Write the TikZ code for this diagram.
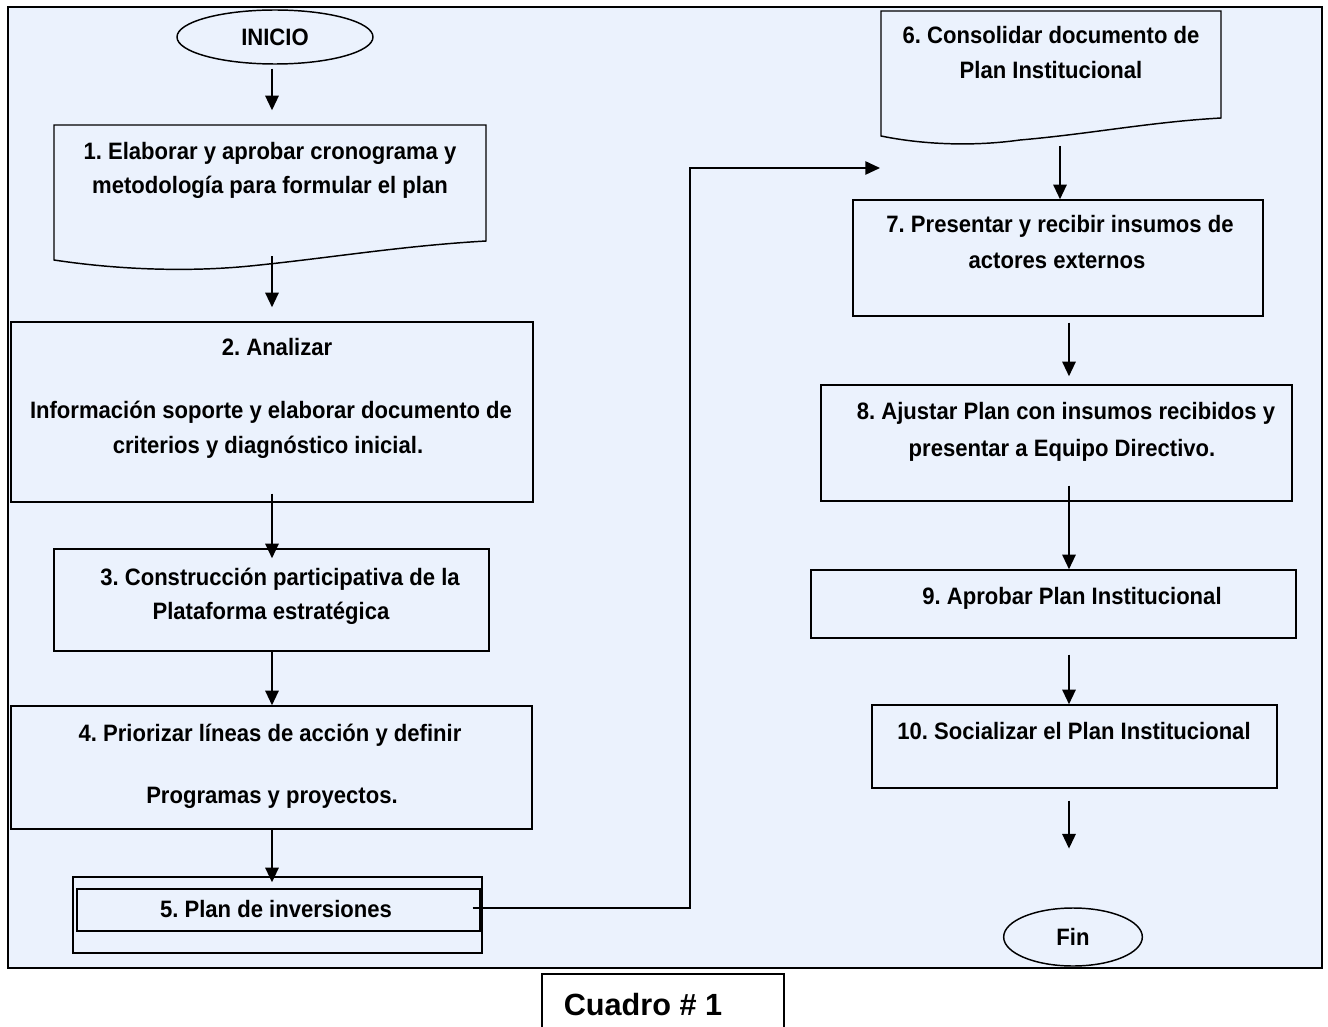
\documentclass[tikz,border=0pt]{standalone}
\usepackage{fontspec}
\setmainfont{Liberation Sans}
\newfontfamily\nar[FakeStretch=0.93]{Liberation Sans}
\usetikzlibrary{arrows.meta,fit,shapes.geometric}
\definecolor{bgblue}{RGB}{235,242,253}
\frenchspacing
\begin{document}
\begin{tikzpicture}[x=0.75pt,y=-0.75pt,
  box/.style={draw, line width=1.1pt, inner sep=0pt},
  docline/.style={draw, line width=1.1pt},
  txt/.style={font=\nar\bfseries\fontsize{17.8}{20}\selectfont, anchor=base, inner sep=0pt},
  term/.style={draw, ellipse, line width=1.1pt, inner sep=0pt, font=\nar\bfseries\fontsize{17.8}{20}\selectfont},
  arr/.style={line width=1.5pt, -{Triangle[length=11pt,width=10pt]}},
  conn/.style={line width=1.2pt, -{Triangle[length=11pt,width=10pt]}}]
\useasboundingbox (0,0) rectangle (1328,1027);
% outer frame
\node[box, fill=bgblue, fit={(8,7)(1322,968)}] (frame) {};
% caption box
\node[box, fit={(542,974)(784,1045)}] (cuadro) {};
\node[anchor=base, inner sep=0pt, font=\bfseries\fontsize{23}{27}\selectfont] (tcuadro) at (643,1015) {Cuadro \# 1};

% start / end
\node[term, minimum width=147pt, minimum height=40.5pt] (inicio) at (275,37) {INICIO};
\node[term, minimum width=104pt, minimum height=43.5pt] (fin) at (1073,937) {Fin};

% box 1 (document)
\draw[docline] (54,125) -- (486,125) -- (486,241) .. controls (400,246) and (330,258) .. (250,266) .. controls (190,272) and (120,270) .. (54,260) -- cycle;
\coordinate (b1top) at (272,125);
\coordinate (b1bot) at (272,265);
\node[txt] (t1a) at (270,160) {1. Elaborar y aprobar cronograma y};
\node[txt] (t1b) at (270,194) {metodología para formular el plan};

% box 2
\node[box, fit={(11,322)(533,502)}] (b2) {};
\node[txt] (t2a) at (277,355) {2. Analizar};
\node[txt] (t2b) at (271,418) {Información soporte y elaborar documento de};
\node[txt] (t2c) at (268,453) {criterios y diagnóstico inicial.};

% box 3
\node[box, fit={(54,549)(489,651)}] (b3) {};
\node[txt] (t3a) at (280,585) {3. Construcción participativa de la};
\node[txt] (t3b) at (271,619) {Plataforma estratégica};

% box 4
\node[box, fit={(11,706)(532,829)}] (b4) {};
\node[txt] (t4a) at (270,741) {4. Priorizar líneas de acción y definir};
\node[txt] (t4b) at (272,803) {Programas y proyectos.};

% box 5
\node[box, fit={(73,877)(482,953)}] (b5) {};
\node[box, fit={(77,889)(480,931)}] (b5in) {};
\node[txt] (t5) at (276,917) {5. Plan de inversiones};

% box 6 (document)
\draw[docline] (881,11) -- (1221,11) -- (1221,118) .. controls (1150,122) and (1090,134) .. (1020,140) .. controls (970,147) and (920,144) .. (881,136) -- cycle;
\coordinate (b6bot) at (1060,137);
\coordinate (c6in) at (880,168);
\node[txt] (t6a) at (1051,44) {6. Consolidar documento de};
\node[txt] (t6b) at (1051,79) {Plan Institucional};

% box 7
\node[box, fit={(853,200)(1263,316)}] (b7) {};
\node[txt] (t7a) at (1060,233) {7. Presentar y recibir insumos de};
\node[txt] (t7b) at (1057,268) {actores externos};

% box 8
\node[box, fit={(821,385)(1292,501)}] (b8) {};
\node[txt] (t8a) at (1066,419) {8. Ajustar Plan con insumos recibidos y};
\node[txt] (t8b) at (1062,456) {presentar a Equipo Directivo.};

% box 9
\node[box, fit={(811,570)(1296,638)}] (b9) {};
\node[txt] (t9) at (1072,604) {9. Aprobar Plan Institucional};

% box 10
\node[box, fit={(872,705)(1277,788)}] (b10) {};
\node[txt] (t10) at (1074,739) {10. Socializar el Plan Institucional};

% arrow columns
\coordinate (lx) at (272,0);
\coordinate (rx) at (1069,0);

% connectors left column
\draw[arr, shorten <=3pt, shorten >=11pt] (inicio.south -| b1top) -- (b1top);
\draw[arr, shorten <=-6.75pt, shorten >=10.5pt] (b1bot) -- (b1bot |- b2.north);
\draw[arr, shorten <=-6.75pt, shorten >=-7.5pt] (b2.south -| lx) -- (b3.north -| lx);
\draw[arr] (b3.south -| lx) -- (b4.north -| lx);
\draw[arr, shorten >=-4.5pt] (b4.south -| lx) -- (b5.north -| lx);

% connector 5 -> 6
\coordinate (bend) at (690,908);
\draw[conn, shorten <=-6pt] (b5in.east |- bend) -- (bend) |- (c6in);

% connectors right column
\draw[arr, shorten <=6.75pt] (b6bot) -- (b6bot |- b7.north);
\draw[arr, shorten <=4.5pt, shorten >=6pt] (b7.south -| rx) -- (b8.north -| rx);
\draw[arr, shorten <=-12pt] (b8.south -| rx) -- (b9.north -| rx);
\draw[arr, shorten <=12pt] (b9.south -| rx) -- (b10.north -| rx);
\draw[arr, shorten <=9pt, shorten >=44pt] (b10.south -| rx) -- (fin.north -| rx);
\end{tikzpicture}
\end{document}
